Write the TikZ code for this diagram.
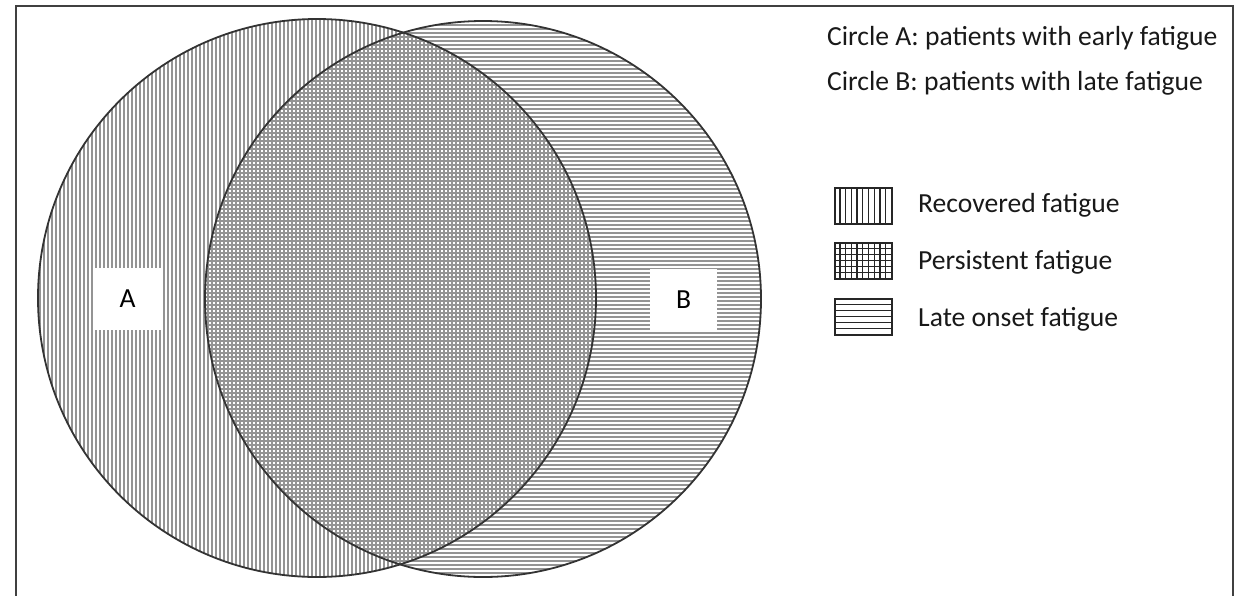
\documentclass[tikz,border=0pt]{standalone}
\usepackage{fontspec}
\setmainfont{Carlito}
\begin{document}
\begin{tikzpicture}[x=1pt,y=-1pt,
  outline/.style={draw=black!80,line width=1.8pt},
  hatch/.style={draw=black!42,line width=1.6pt},
  frameline/.style={draw=black!75,line width=1.6pt},
  legtext/.style={anchor=west,inner sep=0pt,text=black!90,font=\fontsize{27.6}{32}\selectfont},
  labbox/.style={fill=white,minimum height=62pt,inner sep=0pt,font=\fontsize{27.6}{32}\selectfont},
  legbox/.style={draw=black!85,line width=1.5pt,minimum width=57pt,minimum height=36pt,inner sep=0pt},
  legline/.style={draw=black!85,line width=1.3pt}]
\useasboundingbox (0,0) rectangle (1240,595);
\fill[white] (0,0) rectangle (1240,595);
% frame
\draw[frameline] (16,600) -- (16,6) -- (1233,6) -- (1233,600);
% circles
\coordinate (cA) at (317,298);
\coordinate (cB) at (483,299);
\begin{scope}
  \clip (cA) circle[radius=279pt];
  \foreach \x in {36,40,...,600} \draw[hatch] (\x,15) -- (\x,580);
\end{scope}
\begin{scope}
  \clip (cB) circle[radius=278pt];
  \foreach \y in {21,25,...,580} \draw[hatch] (200,\y) -- (765,\y);
\end{scope}
\draw[outline] (cA) circle[radius=279pt];
\draw[outline] (cB) circle[radius=278pt];
% labels
\node[labbox,minimum width=69pt] (la) at (127.5,299) {A};
\node[labbox,minimum width=67pt] (lb) at (683.5,300) {B};
% legend text
\node[legtext] (t1) at (827,38) {Circle A: patients with early fatigue};
\node[legtext] (t2) at (827,83) {Circle B: patients with late fatigue};
\node[legtext] (t3) at (918,205) {Recovered fatigue};
\node[legtext] (t4) at (918,262) {Persistent fatigue};
\node[legtext] (t5) at (918,319) {Late onset fatigue};
% legend keys
\node[legbox] (k1) at (863.5,206) {};
\node[legbox] (k2) at (863.5,261) {};
\node[legbox] (k3) at (863.5,317) {};
\foreach \i in {1,...,9} {
  \draw[legline] ([xshift=\i*5.7pt]k1.north west) -- ([xshift=\i*5.7pt]k1.south west);
  \draw[legline] ([xshift=\i*5.7pt]k2.north west) -- ([xshift=\i*5.7pt]k2.south west);
}
\foreach \i in {1,...,5} {
  \draw[legline] ([yshift=-\i*6pt]k2.north west) -- ([yshift=-\i*6pt]k2.north east);
  \draw[legline] ([yshift=-\i*6pt]k3.north west) -- ([yshift=-\i*6pt]k3.north east);
}
\end{tikzpicture}
\end{document}
